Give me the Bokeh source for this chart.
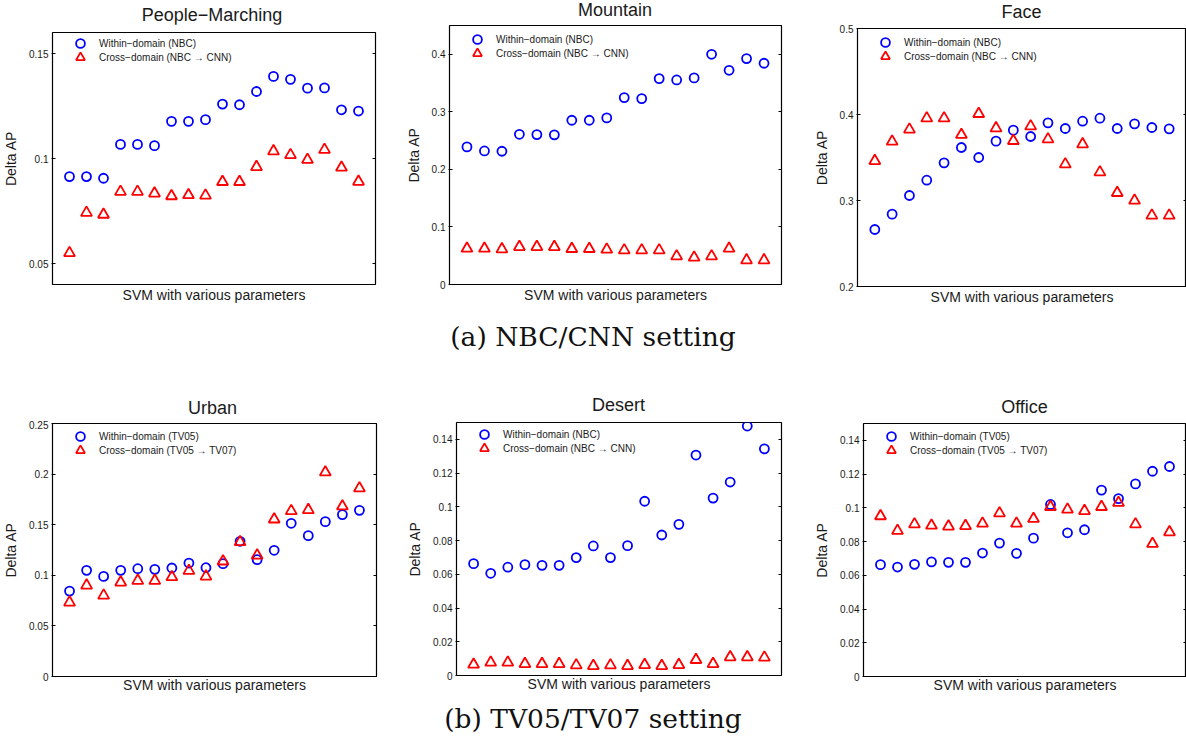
from bokeh.plotting import figure
from bokeh.models import Range1d, LinearAxis, FixedTicker, Legend, LegendItem, Div
from bokeh.layouts import column, row
from bokeh.embed import file_html
from bokeh.resources import INLINE

# 18 SVM parameter settings, one position each along the x axis
params = list(range(1, 19))

# ---- (a) NBC/CNN setting ----
people_within = [0.0914, 0.0914, 0.0906, 0.1067, 0.1067, 0.1061, 0.1177, 0.1177, 0.1185,
                 0.1259, 0.1256, 0.1319, 0.1391, 0.1377, 0.1335, 0.1336, 0.1232, 0.1226]
people_cross = [0.0550, 0.0742, 0.0733, 0.0842, 0.0842, 0.0834, 0.0821, 0.0826, 0.0824,
                0.0889, 0.0889, 0.0960, 0.1035, 0.1017, 0.0994, 0.1042, 0.0957, 0.0890]

mountain_within = [0.239, 0.232, 0.2315, 0.261, 0.2605, 0.260, 0.2854, 0.2854, 0.2894,
                   0.3247, 0.323, 0.3577, 0.3554, 0.3589, 0.400, 0.3722, 0.3925, 0.3844]
mountain_cross = [0.0625, 0.0625, 0.0614, 0.0654, 0.0654, 0.0654, 0.0620, 0.0620, 0.0608,
                  0.0596, 0.0596, 0.0596, 0.0492, 0.0469, 0.0492, 0.0625, 0.0423, 0.0423]

face_within = [0.2663, 0.2841, 0.3058, 0.3236, 0.3438, 0.3616, 0.3500, 0.3690, 0.3818,
               0.3744, 0.3903, 0.3837, 0.3922, 0.3957, 0.3837, 0.3891, 0.3849, 0.3833]
face_cross = [0.3461, 0.3686, 0.3826, 0.3957, 0.3957, 0.3764, 0.4008, 0.3841, 0.3694,
              0.3864, 0.3713, 0.3422, 0.3655, 0.3329, 0.3089, 0.3000, 0.2826, 0.2826]

# ---- (b) TV05/TV07 setting ----
urban_within = [0.0844, 0.1049, 0.0989, 0.1049, 0.1065, 0.1059, 0.1072, 0.1121, 0.1075,
                0.1115, 0.1336, 0.1154, 0.1247, 0.1514, 0.1392, 0.1530, 0.1600, 0.1642]
urban_cross = [0.0732, 0.0900, 0.0801, 0.0930, 0.0947, 0.0947, 0.0983, 0.1045, 0.0989,
               0.1138, 0.1329, 0.1197, 0.1553, 0.1636, 0.1646, 0.2018, 0.1682, 0.1860]

desert_within = [0.0663, 0.0606, 0.0642, 0.0657, 0.0653, 0.0653, 0.0699, 0.0768, 0.0699,
                 0.0770, 0.1033, 0.0833, 0.0896, 0.1307, 0.1052, 0.1147, 0.1479, 0.1344]
desert_cross = [0.0065, 0.0077, 0.0077, 0.0069, 0.0069, 0.0069, 0.0061, 0.0057, 0.0061,
                0.0057, 0.0063, 0.0057, 0.0063, 0.0093, 0.0069, 0.0109, 0.0109, 0.0107]

office_within = [0.0663, 0.0649, 0.0665, 0.0680, 0.0677, 0.0677, 0.0732, 0.0791, 0.0730,
                 0.0820, 0.1020, 0.0852, 0.0870, 0.1105, 0.1055, 0.1142, 0.1217, 0.1245]
office_cross = [0.0951, 0.0864, 0.0903, 0.0895, 0.0890, 0.0893, 0.0907, 0.0968, 0.0907,
                0.0935, 0.1006, 0.0990, 0.0982, 0.1006, 0.1030, 0.0903, 0.0787, 0.0856]

# y-axis tick values and their printed labels
ticks_people = [0.05, 0.1, 0.15]
labels_people = ["0.05", "0.1", "0.15"]
ticks_mountain = [0.0, 0.1, 0.2, 0.3, 0.4]
labels_mountain = ["0", "0.1", "0.2", "0.3", "0.4"]
ticks_face = [0.2, 0.3, 0.4, 0.5]
labels_face = ["0.2", "0.3", "0.4", "0.5"]
ticks_urban = [0.0, 0.05, 0.1, 0.15, 0.2, 0.25]
labels_urban = ["0", "0.05", "0.1", "0.15", "0.2", "0.25"]
ticks_small = [0.0, 0.02, 0.04, 0.06, 0.08, 0.1, 0.12, 0.14]
labels_small = ["0", "0.02", "0.04", "0.06", "0.08", "0.1", "0.12", "0.14"]

NBC_WITHIN = "Within\u2212domain (NBC)"
NBC_CROSS = "Cross\u2212domain (NBC \u2192 CNN)"
TV_WITHIN = "Within\u2212domain (TV05)"
TV_CROSS = "Cross\u2212domain (TV05 \u2192 TV07)"

FONT = "Liberation Sans"
BLUE = "#0000ff"
RED = "#ff0000"
INK = "#1a1a1a"


def one_item_legend(label, renderer, x, y):
    return Legend(items=[LegendItem(label=label, renderers=[renderer])],
                  location=(x, y), orientation="vertical",
                  glyph_width=22, glyph_height=22,
                  label_height=14, label_standoff=8,
                  padding=0, margin=0, spacing=0,
                  border_line_color=None, background_fill_alpha=0.0,
                  label_text_font=FONT, label_text_font_size="10px",
                  label_text_color=INK)


def panel(title, within, cross, lab_within, lab_cross, y_lo, y_hi, ticks, tick_labels,
          width, height, b_left, b_right, title_h, title_pad, b_top, b_bottom,
          xlabel_gap, legend_top):
    p = figure(width=width, height=height - title_h, title=None,
               x_range=Range1d(0, 19), y_range=Range1d(y_lo, y_hi),
               x_axis_type=None, y_axis_type=None,
               output_backend="svg", toolbar_location=None,
               min_border_left=b_left, min_border_right=b_right,
               min_border_top=b_top, min_border_bottom=b_bottom,
               background_fill_color="white", border_fill_color="white")
    p.grid.visible = False
    p.outline_line_color = "black"
    p.outline_line_width = 1.2

    frame_w = width - b_left - b_right
    frame_h = height - title_h - b_top - b_bottom

    left = LinearAxis(ticker=FixedTicker(ticks=ticks),
                      major_label_overrides={t: s for t, s in zip(ticks, tick_labels)})
    left.axis_label = "Delta AP"
    left.axis_label_text_font = FONT
    left.axis_label_text_font_size = "14px"
    left.axis_label_text_font_style = "normal"
    left.axis_label_text_color = INK
    left.axis_label_standoff = 7
    left.major_label_text_font = FONT
    left.major_label_text_font_size = "10px"
    left.major_label_text_color = INK
    left.major_label_standoff = 3
    left.axis_line_color = None
    left.major_tick_in = 3
    left.major_tick_out = 1
    left.major_tick_line_color = "black"
    left.minor_tick_line_color = None
    p.add_layout(left, "left")

    right = LinearAxis(ticker=FixedTicker(ticks=ticks),
                       major_label_overrides={t: "" for t in ticks})
    right.major_label_standoff = 0
    right.axis_line_color = None
    right.major_tick_in = 3
    right.major_tick_out = 0
    right.major_tick_line_color = "black"
    right.minor_tick_line_color = None
    p.add_layout(right, "right")

    bottom = LinearAxis(ticker=FixedTicker(ticks=[]))
    bottom.axis_label = "SVM with various parameters"
    bottom.axis_label_text_font = FONT
    bottom.axis_label_text_font_size = "14px"
    bottom.axis_label_text_font_style = "normal"
    bottom.axis_label_text_color = INK
    bottom.axis_label_standoff = xlabel_gap
    bottom.major_label_standoff = 0
    bottom.major_tick_out = 0
    bottom.major_tick_in = 0
    bottom.axis_line_color = None
    bottom.minor_tick_line_color = None
    p.add_layout(bottom, "below")

    r_in = p.scatter(params, within, marker="circle", size=9,
                     fill_color=None, line_color=BLUE, line_width=1.8)
    r_cr = p.scatter(params, cross, marker="triangle", size=11,
                     fill_color=None, line_color=RED, line_width=1.8)

    # two legend rows, 14 px apart, starting legend_top px below the top of the box
    p.add_layout(one_item_legend(lab_within, r_in, 17, frame_h - legend_top - 11))
    p.add_layout(one_item_legend(lab_cross, r_cr, 17, frame_h - legend_top - 25))

    # panel title, centred over the box
    head = Div(text=(f"<div style=\"width:{frame_w}px;margin:0 0 0 {b_left}px;"
                     f"padding:{title_pad}px 0 0 0;text-align:center;font-family:'{FONT}';"
                     f"font-size:18px;line-height:20px;color:{INK};white-space:nowrap\">"
                     f"{title}</div>"),
               width=width, height=title_h, margin=0)
    return column(head, p, spacing=0)


p1 = panel("People\u2212Marching", people_within, people_cross, NBC_WITHIN, NBC_CROSS,
           0.04, 0.16, ticks_people, labels_people, 400, 310, 49, 25, 24, 5, 8, 26, 2, 11)
p2 = panel("Mountain", mountain_within, mountain_cross, NBC_WITHIN, NBC_CROSS,
           0.0, 0.45, ticks_mountain, labels_mountain, 400, 310, 49, 19, 24, 0, 1, 26, 2, 14)
p3 = panel("Face", face_within, face_cross, NBC_WITHIN, NBC_CROSS,
           0.2, 0.5, ticks_face, labels_face, 386, 310, 57, 0, 24, 2, 4, 24, 2, 14)

p4 = panel("Urban", urban_within, urban_cross, TV_WITHIN, TV_CROSS,
           0.0, 0.25, ticks_urban, labels_urban, 400, 320, 49, 24, 40, 18, 3, 24, 0, 13)
p5 = panel("Desert", desert_within, desert_cross, NBC_WITHIN, NBC_CROSS,
           0.0, 0.15, ticks_small, labels_small, 400, 320, 56, 19, 40, 15, 2, 25, 0, 12)
p6 = panel("Office", office_within, office_cross, TV_WITHIN, TV_CROSS,
           0.0, 0.15, ticks_small, labels_small, 386, 320, 63, 0, 40, 17, 3, 24, 0, 13)

CAPTION_STYLE = ("width:1186px;text-align:center;font-family:'DejaVu Serif',serif;"
                 "font-size:26.5px;color:#111;margin:0;padding:0;")
cap_a = Div(text=f"<div style=\"{CAPTION_STYLE}line-height:54px\">(a) NBC/CNN setting</div>",
            width=1186, height=70, margin=0)
cap_b = Div(text=f"<div style=\"{CAPTION_STYLE}line-height:38px\">(b) TV05/TV07 setting</div>",
            width=1186, height=42, margin=0)

layout = column(row(p1, p2, p3, spacing=0), cap_a, row(p4, p5, p6, spacing=0), cap_b,
                spacing=0)

open("out.html", "w").write(file_html(layout, INLINE, title="Delta AP"))
